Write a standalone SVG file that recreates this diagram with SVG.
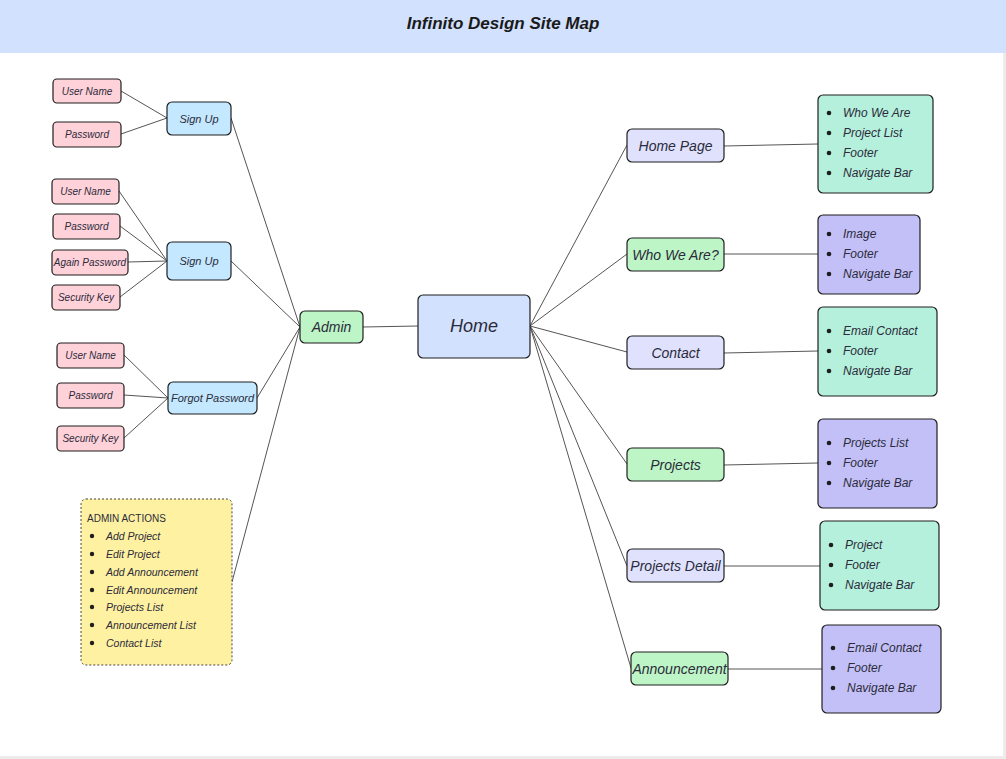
<svg xmlns="http://www.w3.org/2000/svg" width="1006" height="759" viewBox="0 0 1006 759">
<style>
text{font-family:"Liberation Sans",Arial,sans-serif;font-style:italic;fill:#2b2b3a;dominant-baseline:central}
.c{text-anchor:middle}
.n rect{stroke:#1e1e1e;stroke-width:1.2}
.pink{fill:#ffd1d9}
.blue{fill:#c3e8ff}
.green{fill:#bdf5c6}
.lav{fill:#dfe1fd}
.home{fill:#d2e1fd}
.teal{fill:#b5f0dc}
.purp{fill:#c3c0f7}
.s10{font-size:10px}
.s11{font-size:11px}
.s12{font-size:12px}
.s14{font-size:14px}
.s105{font-size:10.5px}
#connectors line{stroke:#555;stroke-width:1}
.dot{fill:#1e1e1e}
</style>
<rect x="0" y="0" width="1006" height="759" fill="#ffffff"/>
<rect x="1003" y="53" width="3" height="706" fill="#ececec"/>
<rect x="0" y="756" width="1006" height="3" fill="#ececec"/>
<rect x="0" y="0" width="1006" height="53" fill="#d2e1fd"/>
<text x="503" y="23" class="c" style="font-size:17px;font-weight:bold;font-style:italic;fill:#1a1a1a">Infinito Design Site Map</text>

<g id="connectors">
<line x1="121" y1="91" x2="167" y2="118"/>
<line x1="121" y1="134" x2="167" y2="118"/>
<line x1="119" y1="191" x2="167" y2="261"/>
<line x1="120" y1="226" x2="167" y2="261"/>
<line x1="128" y1="262" x2="167" y2="261"/>
<line x1="120" y1="297" x2="167" y2="261"/>
<line x1="124" y1="355" x2="168" y2="398"/>
<line x1="124" y1="395" x2="168" y2="398"/>
<line x1="124" y1="438" x2="168" y2="398"/>
<line x1="231" y1="118" x2="300" y2="327"/>
<line x1="231" y1="261" x2="300" y2="327"/>
<line x1="257" y1="398" x2="300" y2="327"/>
<line x1="232" y1="582" x2="300" y2="327"/>
<line x1="363" y1="327" x2="418" y2="326"/>
<line x1="530" y1="326" x2="627" y2="145"/>
<line x1="530" y1="326" x2="627" y2="254"/>
<line x1="530" y1="326" x2="627" y2="352"/>
<line x1="530" y1="326" x2="627" y2="464"/>
<line x1="530" y1="326" x2="627" y2="566"/>
<line x1="530" y1="326" x2="631" y2="668"/>
<line x1="724" y1="146" x2="818" y2="144"/>
<line x1="724" y1="254" x2="818" y2="254"/>
<line x1="724" y1="353" x2="818" y2="351"/>
<line x1="724" y1="465" x2="818" y2="463"/>
<line x1="724" y1="566" x2="820" y2="566"/>
<line x1="728" y1="669" x2="822" y2="669"/>
</g>

<g id="un1" class="n"><rect class="pink" x="53" y="79" width="68" height="24" rx="4"/><text class="c s10" x="87" y="91">User Name</text></g>
<g id="pw1" class="n"><rect class="pink" x="53" y="122" width="68" height="25" rx="4"/><text class="c s10" x="87" y="134.5">Password</text></g>
<g id="signup1" class="n"><rect class="blue" x="167" y="102" width="64" height="33" rx="5"/><text class="c s11" x="199" y="118.5">Sign Up</text></g>

<g id="un2" class="n"><rect class="pink" x="52" y="179" width="67" height="25" rx="4"/><text class="c s10" x="85.5" y="191.5">User Name</text></g>
<g id="pw2" class="n"><rect class="pink" x="53" y="214" width="67" height="25" rx="4"/><text class="c s10" x="86.5" y="226.5">Password</text></g>
<g id="apw2" class="n"><rect class="pink" x="52" y="250" width="76" height="25" rx="4"/><text class="c s10" x="90" y="262.5">Again Password</text></g>
<g id="sk2" class="n"><rect class="pink" x="52" y="285" width="68" height="25" rx="4"/><text class="c s10" x="86" y="297.5">Security Key</text></g>
<g id="signup2" class="n"><rect class="blue" x="167" y="242" width="64" height="38" rx="5"/><text class="c s11" x="199" y="260.5">Sign Up</text></g>

<g id="un3" class="n"><rect class="pink" x="57" y="343" width="67" height="25" rx="4"/><text class="c s10" x="90.5" y="355.5">User Name</text></g>
<g id="pw3" class="n"><rect class="pink" x="57" y="383" width="67" height="25" rx="4"/><text class="c s10" x="90.5" y="395.5">Password</text></g>
<g id="sk3" class="n"><rect class="pink" x="57" y="426" width="67" height="25" rx="4"/><text class="c s10" x="90.5" y="438.5">Security Key</text></g>
<g id="forgot" class="n"><rect class="blue" x="168" y="382" width="89" height="32" rx="5"/><text class="c s11" x="212.5" y="398">Forgot Password</text></g>

<g id="adminactions">
<rect x="81" y="499" width="151" height="166" rx="5" fill="#fff1a2" stroke="#444" stroke-width="1" stroke-dasharray="2,2"/>
<text x="87" y="518" class="s10" style="font-style:normal">ADMIN ACTIONS</text>
<circle class="dot" cx="92" cy="536" r="2.2"/><text x="106" y="536" class="s105">Add Project</text>
<circle class="dot" cx="92" cy="554" r="2.2"/><text x="106" y="554" class="s105">Edit Project</text>
<circle class="dot" cx="92" cy="572" r="2.2"/><text x="106" y="572" class="s105">Add Announcement</text>
<circle class="dot" cx="92" cy="590" r="2.2"/><text x="106" y="590" class="s105">Edit Announcement</text>
<circle class="dot" cx="92" cy="607" r="2.2"/><text x="106" y="607" class="s105">Projects List</text>
<circle class="dot" cx="92" cy="625" r="2.2"/><text x="106" y="625" class="s105">Announcement List</text>
<circle class="dot" cx="92" cy="643" r="2.2"/><text x="106" y="643" class="s105">Contact List</text>
</g>

<g id="admin" class="n"><rect class="green" x="300" y="311" width="63" height="32" rx="5"/><text class="c s14" x="331.5" y="327">Admin</text></g>
<g id="home" class="n"><rect class="home" x="418" y="295" width="112" height="63" rx="5"/><text class="c" x="474" y="326" style="font-size:18px">Home</text></g>

<g id="homepage" class="n"><rect class="lav" x="627" y="129" width="97" height="33" rx="5"/><text class="c s14" x="675.5" y="145.5">Home Page</text></g>
<g id="whoweare" class="n"><rect class="green" x="627" y="238" width="97" height="33" rx="5"/><text class="c s14" x="675.5" y="254.5">Who We Are?</text></g>
<g id="contact" class="n"><rect class="lav" x="627" y="336" width="97" height="33" rx="5"/><text class="c s14" x="675.5" y="352.5">Contact</text></g>
<g id="projects" class="n"><rect class="green" x="627" y="448" width="97" height="33" rx="5"/><text class="c s14" x="675.5" y="464.5">Projects</text></g>
<g id="projectsdetail" class="n"><rect class="lav" x="627" y="549" width="97" height="33" rx="5"/><text class="c s14" x="675.5" y="565.5">Projects Detail</text></g>
<g id="announcement" class="n"><rect class="green" x="631" y="652" width="97" height="33" rx="5"/><text class="c s14" x="679.5" y="668.5">Announcement</text></g>

<g id="box1" class="n"><rect class="teal" x="818" y="95" width="115" height="98" rx="5"/>
<circle class="dot" cx="829" cy="113" r="2.3"/><text class="s12" x="843" y="113">Who We Are</text>
<circle class="dot" cx="829" cy="133" r="2.3"/><text class="s12" x="843" y="133">Project List</text>
<circle class="dot" cx="829" cy="153" r="2.3"/><text class="s12" x="843" y="153">Footer</text>
<circle class="dot" cx="829" cy="173" r="2.3"/><text class="s12" x="843" y="173">Navigate Bar</text></g>
<g id="box2" class="n"><rect class="purp" x="818" y="215" width="102" height="79" rx="5"/>
<circle class="dot" cx="829" cy="234" r="2.3"/><text class="s12" x="843" y="234">Image</text>
<circle class="dot" cx="829" cy="254" r="2.3"/><text class="s12" x="843" y="254">Footer</text>
<circle class="dot" cx="829" cy="274" r="2.3"/><text class="s12" x="843" y="274">Navigate Bar</text></g>
<g id="box3" class="n"><rect class="teal" x="818" y="307" width="119" height="89" rx="5"/>
<circle class="dot" cx="829" cy="331" r="2.3"/><text class="s12" x="843" y="331">Email Contact</text>
<circle class="dot" cx="829" cy="351" r="2.3"/><text class="s12" x="843" y="351">Footer</text>
<circle class="dot" cx="829" cy="371" r="2.3"/><text class="s12" x="843" y="371">Navigate Bar</text></g>
<g id="box4" class="n"><rect class="purp" x="818" y="419" width="119" height="89" rx="5"/>
<circle class="dot" cx="829" cy="443" r="2.3"/><text class="s12" x="843" y="443">Projects List</text>
<circle class="dot" cx="829" cy="463" r="2.3"/><text class="s12" x="843" y="463">Footer</text>
<circle class="dot" cx="829" cy="483" r="2.3"/><text class="s12" x="843" y="483">Navigate Bar</text></g>
<g id="box5" class="n"><rect class="teal" x="820" y="521" width="119" height="89" rx="5"/>
<circle class="dot" cx="831" cy="545" r="2.3"/><text class="s12" x="845" y="545">Project</text>
<circle class="dot" cx="831" cy="565" r="2.3"/><text class="s12" x="845" y="565">Footer</text>
<circle class="dot" cx="831" cy="585" r="2.3"/><text class="s12" x="845" y="585">Navigate Bar</text></g>
<g id="box6" class="n"><rect class="purp" x="822" y="625" width="119" height="88" rx="5"/>
<circle class="dot" cx="833" cy="648" r="2.3"/><text class="s12" x="847" y="648">Email Contact</text>
<circle class="dot" cx="833" cy="668" r="2.3"/><text class="s12" x="847" y="668">Footer</text>
<circle class="dot" cx="833" cy="688" r="2.3"/><text class="s12" x="847" y="688">Navigate Bar</text></g>
</svg>
